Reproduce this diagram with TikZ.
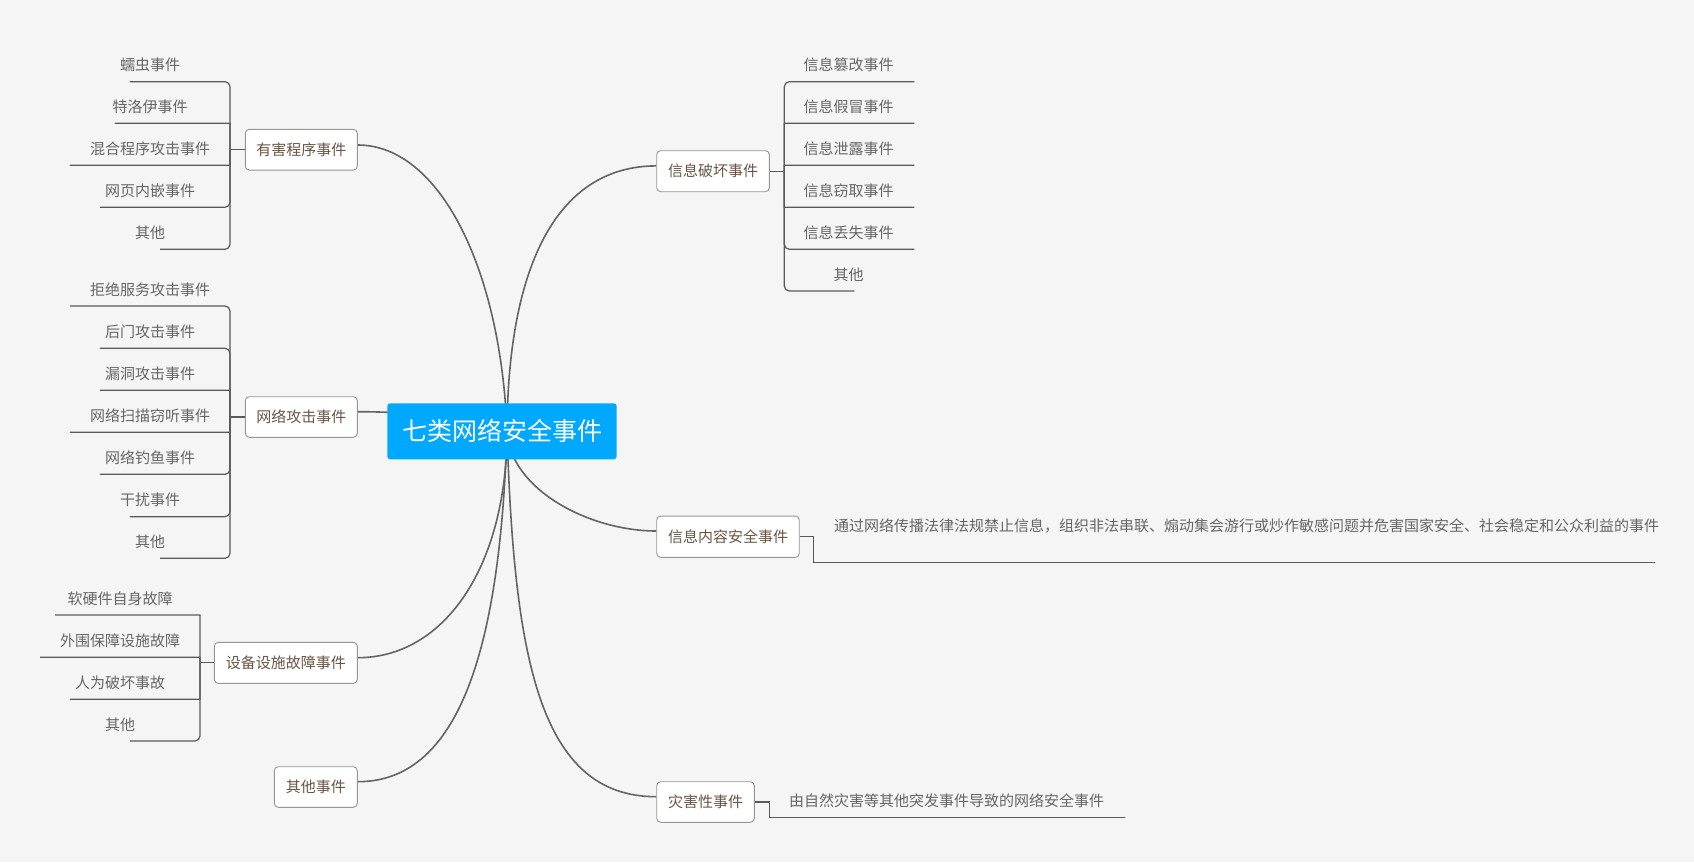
\documentclass[tikz,border=0pt]{standalone}
\usepackage{fontspec}
\setmainfont{Noto Sans CJK SC}
\usetikzlibrary{backgrounds,calc}
\definecolor{bgcol}{RGB}{245,245,245}
\definecolor{central}{RGB}{0,168,255}
\definecolor{branchline}{RGB}{100,100,100}
\definecolor{subline}{RGB}{90,90,90}
\definecolor{nodeborder}{RGB}{150,150,150}
\definecolor{topictext}{RGB}{105,85,68}
\definecolor{leaftext}{RGB}{102,102,102}
\begin{document}
\begin{tikzpicture}[x=1pt,y=-1pt,
  topic/.style={draw=nodeborder, fill=white, rounded corners=4pt, line width=0.9pt,
    text=topictext, font=\fontsize{15}{17}\selectfont, inner sep=0pt},
  leaf/.style={text=leaftext, font=\fontsize{15}{17}\selectfont, inner sep=0pt},
  branch/.style={draw=branchline, line width=1.6pt},
  sub/.style={draw=subline, line width=1.2pt},
  plain/.style={draw=subline, line width=1.2pt}]
\useasboundingbox (0,0) rectangle (1694,862);

% root
\node[fill=central, rounded corners=3pt, minimum width=229.4pt, minimum height=56pt,
  text=white, font=\fontsize{25}{28}\selectfont, inner sep=0pt] (root) at (502,431.3) {七类网络安全事件};
\coordinate (hub) at (507,431);

% main topics
\node[topic, minimum width=112pt, minimum height=40.7pt] (n1) at (301.3,149.7) {有害程序事件};
\node[topic, minimum width=112pt, minimum height=40.6pt] (n2) at (301.3,417) {网络攻击事件};
\node[topic, minimum width=143pt, minimum height=41pt] (n3) at (285.8,662.8) {设备设施故障事件};
\node[topic, minimum width=83pt, minimum height=40.6pt] (n4) at (315.8,787) {其他事件};
\node[topic, minimum width=112.6pt, minimum height=41pt] (n5) at (713,171.2) {信息破坏事件};
\node[topic, minimum width=142.5pt, minimum height=41.3pt] (n6) at (728,536.7) {信息内容安全事件};
\node[topic, minimum width=97.6pt, minimum height=40.6pt] (n7) at (705.5,802) {灾害性事件};

\begin{scope}[on background layer]
  \fill[bgcol] (0,0) rectangle (1694,862);
  \draw[branch] (hub) .. controls (501,270) and (440,145) .. ($(n1.east)+(0,-4.7)$);
  \draw[branch] (hub) .. controls (480,420) and (420,411.7) .. ($(n2.east)+(0,-5.3)$);
  \draw[branch] (hub) .. controls (507,567) and (444,657.7) .. ($(n3.east)+(0,-5.1)$);
  \draw[branch] (hub) .. controls (500,660) and (455,781.7) .. ($(n4.east)+(0,-5.3)$);
  \draw[branch] (hub) .. controls (508,260) and (560,166) .. ($(n5.west)+(0,-5.3)$);
  \draw[branch] (hub) .. controls (510,490) and (590,531) .. ($(n6.west)+(0,-5.7)$);
  \draw[branch] (hub) .. controls (514,660) and (540,796.7) .. ($(n7.west)+(0,-5.3)$);
\end{scope}

% stubs
\coordinate (s1) at (230,149.7);
\coordinate (s2) at (230,417);
\coordinate (s3) at (200,662.8);
\coordinate (s5) at (784.3,171.2);
\draw[plain] (n1.west) -- (s1);
\draw[plain] (n2.west) -- (s2);
\draw[plain] (n3.west) -- (s3);
\draw[plain] (n5.east) -- (s5);

% group 1
\foreach \t/\y/\n/\r [count=\i] in {蠕虫事件/81.7/4/5, 特洛伊事件/123.3/5/0.01, 混合程序攻击事件/165.3/8/0.01, 网页内嵌事件/207.3/6/5, 其他/249.3/2/5} {
  \node[leaf] (a\i) at (150,\y-16.6) {\t};
  \coordinate (a\i u) at (190-15*\n,\y);
  \draw[sub, rounded corners=\r pt] (s1) |- (a\i u);
}
% group 2
\foreach \t/\y/\n/\r [count=\i] in {拒绝服务攻击事件/306/8/5, 后门攻击事件/348.3/6/5, 漏洞攻击事件/390.3/6/0.01, 网络扫描窃听事件/432.3/8/0.01, 网络钓鱼事件/474.3/6/5, 干扰事件/516.7/4/5, 其他/558.3/2/5} {
  \node[leaf] (b\i) at (150,\y-16.6) {\t};
  \coordinate (b\i u) at (190-15*\n,\y);
  \draw[sub, rounded corners=\r pt] (s2) |- (b\i u);
}
% group 3
\foreach \t/\y/\n/\r [count=\i] in {软硬件自身故障/615/7/0.01, 外围保障设施故障/657.3/8/0.01, 人为破坏事故/699.3/6/0.01, 其他/741/2/5} {
  \node[leaf] (c\i) at (120,\y-16.6) {\t};
  \coordinate (c\i u) at (160-15*\n,\y);
  \draw[sub, rounded corners=\r pt] (s3) |- (c\i u);
}
% right group
\foreach \t/\y/\n/\r [count=\i] in {信息篡改事件/81.7/6/5, 信息假冒事件/123.3/6/0.01, 信息泄露事件/165.3/6/0.01, 信息窃取事件/207.3/6/0.01, 信息丢失事件/249.3/6/5, 其他/291/2/5} {
  \node[leaf] (e\i) at (848.5,\y-16.6) {\t};
  \coordinate (e\i u) at (824.3+15*\n,\y);
  \draw[sub, rounded corners=\r pt] (s5) |- (e\i u);
}

% descriptions
\coordinate (d1a) at (813.4,536.7);
\coordinate (d1b) at (1655,562.7);
\draw[plain] (n6.east) -- (d1a) |- (d1b);
\node[leaf, anchor=west] (d1) at (834,526) {通过网络传播法律法规禁止信息，组织非法串联、煽动集会游行或炒作敏感问题并危害国家安全、社会稳定和公众利益的事件};

\coordinate (d2a) at (769.3,802);
\coordinate (d2b) at (1125,817.3);
\draw[plain] (n7.east) -- (d2a) |- (d2b);
\node[leaf] (d2) at (946.7,801) {由自然灾害等其他突发事件导致的网络安全事件};
\end{tikzpicture}
\end{document}
